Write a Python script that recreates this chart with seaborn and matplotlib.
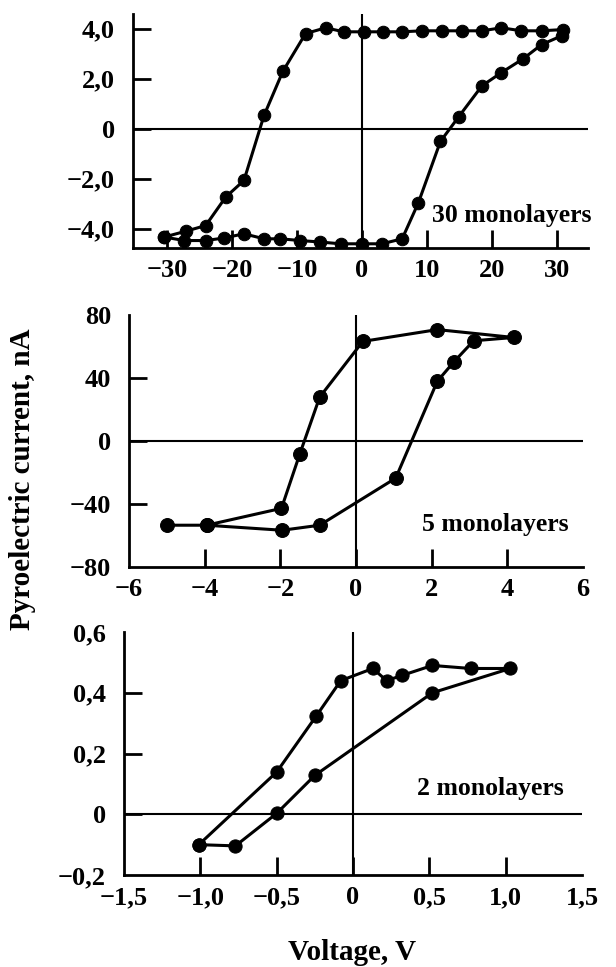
#%% Standard modules
import matplotlib
matplotlib.use("Agg")
import matplotlib.pyplot as plt
import seaborn as sns
import pandas as pd

#%% Data (loop order, so the lines close the hysteresis)
# 30 monolayers, voltage in V, current in nA
v30 = [-30.5, -27.2, -24.1, -21.0, -18.2, -15.1, -12.2, -8.7, -5.6, -2.8, 0.3, 3.3,
       6.2, 9.2, 12.3, 15.4, 18.5, 21.5, 24.6, 27.7, 31.0,
       30.8, 27.7, 24.9, 21.5, 18.5, 14.9, 12.1, 8.7, 6.2,
       3.1, 0.0, -3.3, -6.4, -9.5, -12.6, -15.1, -18.2, -21.3, -24.1, -27.4, -30.5]
i30 = [-4.33, -4.1, -3.87, -2.73, -2.07, 0.53, 2.29, 3.8, 4.03, 3.87, 3.87, 3.87,
       3.87, 3.91, 3.91, 3.91, 3.91, 4.03, 3.91, 3.91, 3.96,
       3.71, 3.36, 2.8, 2.24, 1.71, 0.47, -0.51, -2.96, -4.4,
       -4.6, -4.6, -4.6, -4.53, -4.47, -4.4, -4.4, -4.2, -4.37, -4.47, -4.47, -4.33]

# 5 monolayers
v5 = [-5.0, -3.95, -1.97, -1.49, -0.96, 0.18, 2.15, 4.17, 3.11, 2.59, 2.15, 1.05,
      -0.96, -1.95, -3.95]
i5 = [-53.5, -53.5, -42.8, -8.6, 27.8, 63.2, 70.7, 65.7, 63.6, 50.3, 37.9, -23.6,
      -53.5, -56.7, -53.5]

# 2 monolayers
v2 = [-1.01, -0.77, -0.5, -0.25, 0.52, 1.03, 0.77, 0.52, 0.32, 0.22, 0.13, -0.08,
      -0.24, -0.5, -1.01]
i2 = [-0.10, -0.104, 0.003, 0.128, 0.40, 0.48, 0.48, 0.49, 0.457, 0.44, 0.48, 0.44,
      0.324, 0.139, -0.10]

labels = ["30 monolayers", "5 monolayers", "2 monolayers"]

xticks_30 = [-30, -20, -10, 0, 10, 20, 30]
xticklabels_30 = ["\u221230", "\u221220", "\u221210", "0", "10", "20", "30"]
yticks_30 = [-4, -2, 0, 2, 4]
yticklabels_30 = ["\u22124,0", "\u22122,0", "0", "2,0", "4,0"]

xticks_5 = [-6, -4, -2, 0, 2, 4, 6]
xticklabels_5 = ["\u22126", "\u22124", "\u22122", "0", "2", "4", "6"]
yticks_5 = [-80, -40, 0, 40, 80]
yticklabels_5 = ["\u221280", "\u221240", "0", "40", "80"]

xticks_2 = [-1.5, -1.0, -0.5, 0, 0.5, 1.0, 1.5]
xticklabels_2 = ["\u22121,5", "\u22121,0", "\u22120,5", "0", "0,5", "1,0", "1,5"]
yticks_2 = [-0.2, 0, 0.2, 0.4, 0.6]
yticklabels_2 = ["\u22120,2", "0", "0,2", "0,4", "0,6"]

#%% Style
sns.set_style("ticks")
plt.rcParams["font.family"] = ["Liberation Serif", "DejaVu Serif"]
plt.rcParams["font.weight"] = "bold"
plt.rcParams["text.color"] = "black"

fig = plt.figure(figsize=(6.16, 9.67), dpi=100)

panels = [
    dict(rect=[0.216, 0.744, 0.739, 0.242], v=v30, i=i30, label=labels[0],
         xlim=(-35.3, 34.9), ylim=(-4.75, 4.6),
         xt=xticks_30, xtl=xticklabels_30, yt=yticks_30, ytl=yticklabels_30,
         txt=(0.657, 0.137), ms=9),
    dict(rect=[0.2094, 0.4137, 0.737, 0.2606], v=v5, i=i5, label=labels[1],
         xlim=(-6, 6), ylim=(-80, 80),
         xt=xticks_5, xtl=xticklabels_5, yt=yticks_5, ytl=yticklabels_5,
         txt=(0.645, 0.167), ms=10),
    dict(rect=[0.2013, 0.0951, 0.7435, 0.2513], v=v2, i=i2, label=labels[2],
         xlim=(-1.5, 1.5), ylim=(-0.2, 0.59),
         xt=xticks_2, xtl=xticklabels_2, yt=yticks_2, ytl=yticklabels_2,
         txt=(0.64, 0.358), ms=9.5),
]

for p in panels:
    ax = fig.add_axes(p["rect"])
    df = pd.DataFrame({"voltage": p["v"], "current": p["i"]})
    sns.lineplot(data=df, x="voltage", y="current", sort=False, estimator=None,
                 color="black", lw=2.2, marker="o", markersize=p["ms"],
                 markeredgecolor="black", ax=ax)

    # zero lines through the origin
    ax.axhline(0, color="black", lw=1.5, zorder=1)
    ax.axvline(0, color="black", lw=1.5, zorder=1)

    ax.set_xlim(p["xlim"])
    ax.set_ylim(p["ylim"])
    ax.set_xticks(p["xt"])
    ax.set_xticklabels(p["xtl"])
    ax.set_yticks(p["yt"])
    ax.set_yticklabels(p["ytl"])
    ax.set_xlabel("")
    ax.set_ylabel("")

    sns.despine(ax=ax)
    for side in ["left", "bottom"]:
        ax.spines[side].set_linewidth(2)
        ax.spines[side].set_color("black")
    # ticks point into the plot, like the original
    ax.tick_params(axis="both", which="major", direction="in", length=13,
                   width=2, color="black", labelcolor="black", labelsize=19)
    ax.tick_params(axis="x", pad=8)
    ax.tick_params(axis="y", pad=13)

    # no tick marks at the axis ends
    for tick, val in zip(ax.xaxis.get_major_ticks(), p["xt"]):
        if val <= p["xlim"][0] or val >= p["xlim"][1]:
            tick.tick1line.set_visible(False)
    for tick, val in zip(ax.yaxis.get_major_ticks(), p["yt"]):
        if val <= p["ylim"][0] or val >= p["ylim"][1]:
            tick.tick1line.set_visible(False)

    ax.text(p["txt"][0], p["txt"][1], p["label"], transform=ax.transAxes,
            ha="left", va="center", fontsize=18.5, fontweight="bold",
            color="black")

fig.text(0.036, 0.504, "Pyroelectric current, nA", rotation=90,
         ha="center", va="center", fontsize=21, fontweight="bold", color="black")
fig.text(0.571, 0.0145, "Voltage, V", ha="center", va="center",
         fontsize=21, fontweight="bold", color="black")

fig.savefig("out.png", dpi=100, facecolor="white")
